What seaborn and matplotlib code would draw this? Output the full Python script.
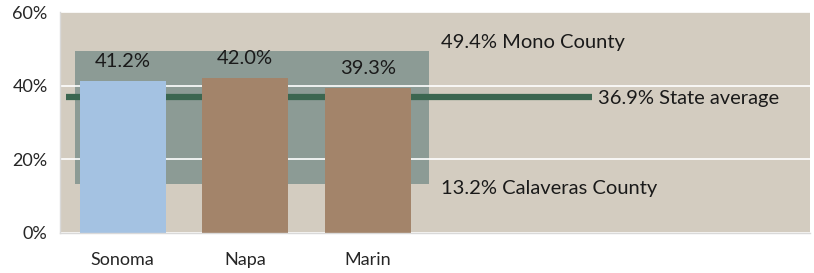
#!/usr/bin/env python3
"""Share of county residents by county vs. state range."""

import matplotlib.pyplot as plt
import pandas as pd
import seaborn as sns
from matplotlib.patches import Rectangle

counties = ["Sonoma", "Napa", "Marin"]
rates = [41.2, 42.0, 39.3]
bar_colors = ["#a4c2e2", "#a3846a", "#a3846a"]

state_avg = 36.9
range_high = 49.4
range_high_label = "Mono County"
range_low = 13.2
range_low_label = "Calaveras County"
y_ticks = [0, 20, 40, 60]

sns.set_theme(style="white")
plt.rcParams["font.family"] = ["Lato", "DejaVu Sans"]


def main():
    df = pd.DataFrame({"county": counties, "rate": rates})
    fig, ax = plt.subplots(figsize=(8.14, 2.73), dpi=100)
    fig.subplots_adjust(left=0.074, right=0.995, top=0.955, bottom=0.148)
    ax.set_facecolor("#d3ccc0")

    # range band between lowest and highest county
    ax.add_patch(Rectangle((-0.39, range_low), 2.89, range_high - range_low,
                           facecolor="#8c9b95", edgecolor="none", zorder=0.5))
    ax.yaxis.grid(True, color="white", linewidth=1.2, zorder=1)
    ax.set_axisbelow(True)
    ax.plot([-0.46, 3.83], [state_avg, state_avg], color="#3b6650",
            linewidth=4.5, solid_capstyle="butt", zorder=1.5)

    sns.barplot(data=df, x="county", y="rate", hue="county", palette=bar_colors,
                width=0.70, legend=False, saturation=1, linewidth=0,
                edgecolor="none", ax=ax, zorder=2)

    for i, v in enumerate(rates):
        ax.annotate(f"{v:.1f}%", (i, v), xytext=(0, 8), textcoords="offset points",
                    ha="center", va="bottom", fontsize=14.5, color="#1a1a1a")

    ax.text(2.6, range_high + 2.3, f"{range_high:.1f}% {range_high_label}",
            ha="left", va="center", fontsize=14.5, color="#1a1a1a")
    ax.text(3.88, state_avg - 0.5, f"{state_avg:.1f}% State average",
            ha="left", va="center", fontsize=14.5, color="#1a1a1a")
    ax.text(2.6, range_low - 1.2, f"{range_low:.1f}% {range_low_label}",
            ha="left", va="center", fontsize=14.5, color="#1a1a1a")

    ax.set_xlim(-0.51, 5.61)
    ax.set_ylim(0, 60)
    ax.set_yticks(y_ticks)
    ax.set_yticklabels([f"{t}%" for t in y_ticks], fontsize=13)
    ax.tick_params(axis="x", labelsize=13, length=0, pad=14)
    ax.tick_params(axis="y", length=0, pad=9)
    ax.set_xlabel("")
    ax.set_ylabel("")
    for side in ("top", "right"):
        ax.spines[side].set_visible(False)
    for side in ("left", "bottom"):
        ax.spines[side].set_color("#d9d9d9")
        ax.spines[side].set_linewidth(1)

    fig.savefig("out.png", dpi=100)
    plt.close(fig)


if __name__ == "__main__":
    main()
